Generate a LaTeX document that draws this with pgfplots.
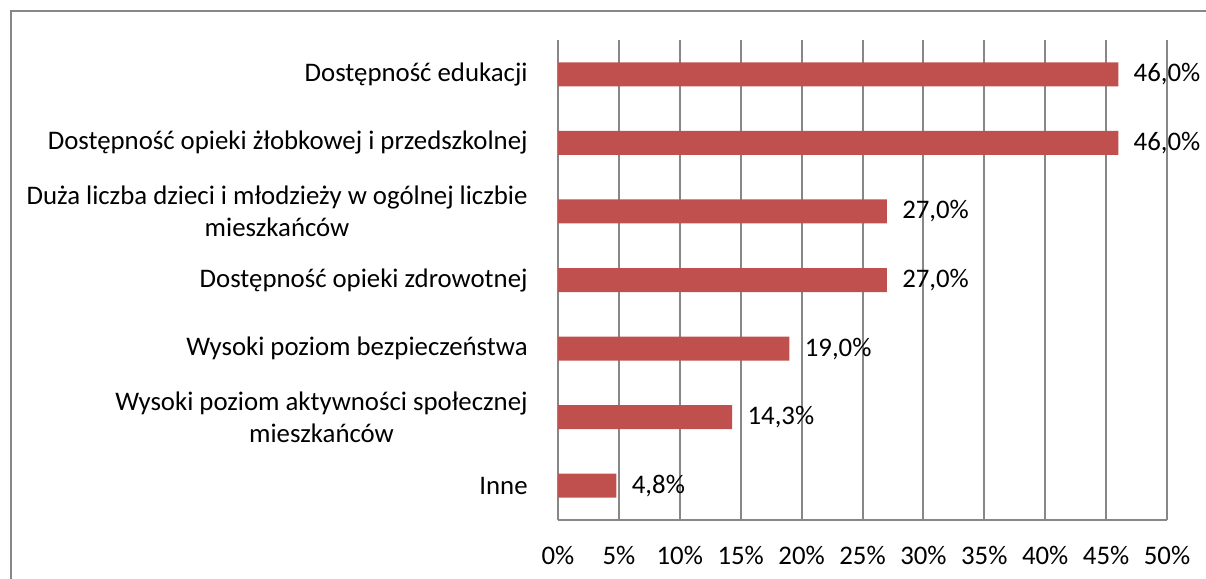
\documentclass[border=0pt]{standalone}
\usepackage{fontspec}
\setmainfont{Carlito}
\usepackage{pgfplots}
\pgfplotsset{compat=1.18}
\definecolor{barred}{HTML}{C0504D}
\definecolor{gridgray}{HTML}{878787}
\begin{document}
\fontsize{13.4bp}{16bp}\selectfont
\begin{tikzpicture}[x=1bp,y=1bp]
\useasboundingbox (0,0) rectangle (603,289);
\draw[gridgray, line width=1.2bp] (5.5,-2) -- (5.5,283.5) -- (605,283.5);
\begin{axis}[
  at={(279bp,29bp)}, anchor=south west,
  scale only axis, width=304.5bp, height=240bp,
  /pgf/number format/assume math mode=true,
  font=\fontsize{13.4bp}{16bp}\selectfont,
  xbar, bar width=12bp,
  xmin=0, xmax=50, ymin=-0.5, ymax=6.5,
  xtick={0,5,...,50},
  xticklabels={0\%,5\%,10\%,15\%,20\%,25\%,30\%,35\%,40\%,45\%,50\%},
  ytick={0,1,2,3,4,5,6},
  yticklabels={Inne,
    {Wysoki poziom aktywności społecznej\\mieszkańców},
    Wysoki poziom bezpieczeństwa,
    Dostępność opieki zdrowotnej,
    {Duża liczba dzieci i młodzieży w ogólnej liczbie\\mieszkańców},
    Dostępność opieki żłobkowej i przedszkolnej,
    Dostępność edukacji},
  yticklabel style={align=center, anchor=east, inner sep=0pt, xshift=-15bp},
  xticklabel style={anchor=center, inner sep=0pt, yshift=-17.5bp},
  major tick length=0pt,
  axis x line*=bottom, axis y line*=left,
  axis line style={-, gridgray, line width=1bp},
  xmajorgrids, major grid style={gridgray, line width=1bp},
  nodes near coords={\pgfmathprintnumber[fixed, fixed zerofill, precision=1, use comma]{\pgfplotspointmeta}\%},
  every node near coord/.append style={anchor=west, inner sep=0pt, xshift=7.5bp, text=black},
]
\addplot[fill=barred, draw=none] coordinates {
  (4.8,0) (14.3,1) (19.0,2) (27.0,3) (27.0,4) (46.0,5) (46.0,6)
};
\end{axis}
\end{tikzpicture}
\end{document}
